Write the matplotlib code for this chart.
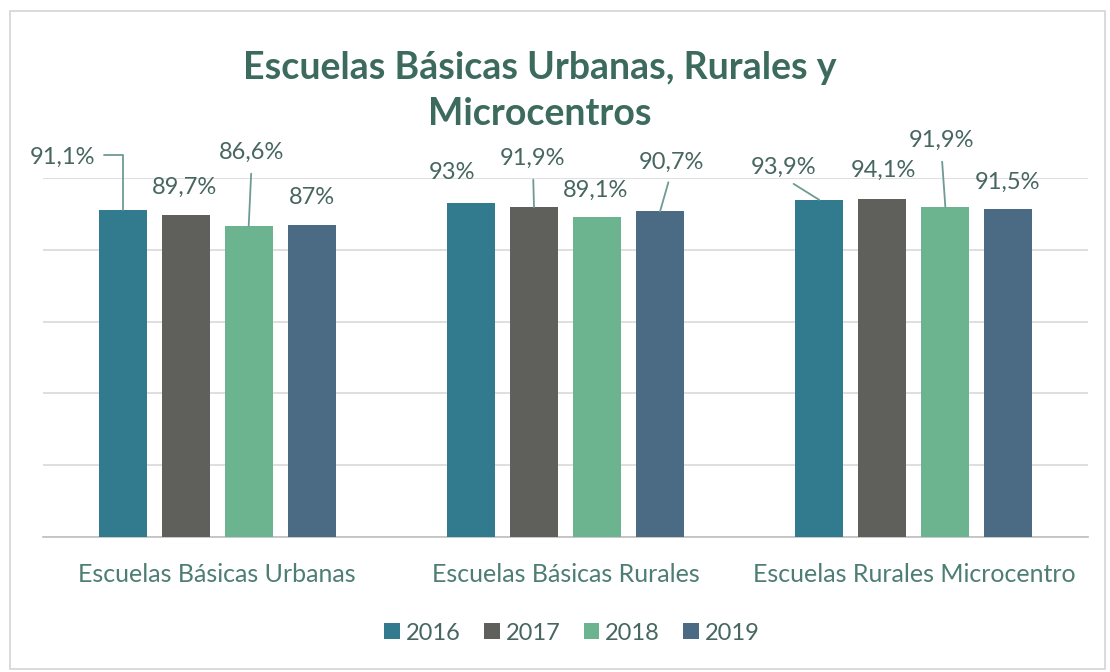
import matplotlib
matplotlib.use("Agg")
import matplotlib.pyplot as plt
from matplotlib.patches import Rectangle
import numpy as np

# ---- data ----
categories = ["Escuelas Básicas Urbanas", "Escuelas Básicas Rurales", "Escuelas Rurales Microcentro"]
years = ["2016", "2017", "2018", "2019"]
v2016 = [91.1, 93.0, 93.9]
v2017 = [89.7, 91.9, 94.1]
v2018 = [86.6, 89.1, 91.9]
v2019 = [87.0, 90.7, 91.5]
label_2016 = ["91,1%", "93%", "93,9%"]
label_2017 = ["89,7%", "91,9%", "94,1%"]
label_2018 = ["86,6%", "89,1%", "91,9%"]
label_2019 = ["87%", "90,7%", "91,5%"]
title = "Escuelas Básicas Urbanas, Rurales y\nMicrocentros"

series = [v2016, v2017, v2018, v2019]
labels = [label_2016, label_2017, label_2018, label_2019]
colors = ["#327b8e", "#5f605b", "#6cb48f", "#4b6a83"]

# label placement (pixel offsets from bar top, leader type)
label_layout = [
    [(-60, 53, "elbow"), (-19, 31, None), (-36, 33, "diag")],
    [(-1, 28, None), (-1, 49, "vert"), (1, 29, None)],
    [(3, 74, "vert"), (-1, 27, None), (-4, 67, "vert")],
    [(0, 27, None), (11, 49, "diag"), (-1, 26, None)],
]

plt.rcParams['font.family'] = ['Lato', 'DejaVu Sans']

W, H = 1110, 672
fig = plt.figure(figsize=(W / 100, H / 100), dpi=100)
fig.patch.set_facecolor("white")

# outer border
fig.patches.append(Rectangle((10 / W, 3 / H), 1095 / W, 658 / H, transform=fig.transFigure,
                             fill=False, edgecolor="#d4d4d4", lw=1.2))

ax = fig.add_axes([43 / W, 135 / H, 1045 / W, 359 / H])
x = np.arange(len(categories))
pitch = 0.181
width = 0.138

text_color = "#46665f"
leader_color = "#6f9a93"
fs_lab = 17

for i, (vals, labs, col) in enumerate(zip(series, labels, colors)):
    xs = x + (i - 1.5) * pitch
    ax.bar(xs, vals, width=width, color=col, label=years[i], zorder=3)
    for j in range(len(categories)):
        dx, dy, kind = label_layout[i][j]
        if kind is None:
            ax.annotate(labs[j], xy=(xs[j], vals[j]), xytext=(dx, dy),
                        textcoords="offset pixels", ha="center", va="center",
                        fontsize=fs_lab, color=text_color, zorder=5)
        else:
            if kind == "elbow":
                ap = dict(arrowstyle="-", color=leader_color, lw=1.3,
                          connectionstyle="angle,angleA=0,angleB=90,rad=0",
                          relpos=(1.0, 0.6), shrinkA=4, shrinkB=0)
            elif kind == "vert":
                ap = dict(arrowstyle="-", color=leader_color, lw=1.3,
                          relpos=(0.5, 0.0), shrinkA=6, shrinkB=0)
            else:
                ap = dict(arrowstyle="-", color=leader_color, lw=1.3,
                          relpos=(0.5, 0.0), shrinkA=5, shrinkB=0)
            ax.annotate(labs[j], xy=(xs[j], vals[j]), xytext=(dx, dy),
                        textcoords="offset pixels", ha="center", va="center",
                        fontsize=fs_lab, color=text_color, arrowprops=ap, zorder=5)

ax.set_xlim(-0.5, len(categories) - 0.5)
ax.set_ylim(0, 100)
ax.set_yticks([0, 20, 40, 60, 80, 100])
ax.yaxis.grid(True, color="#d9d9d9", lw=1.2, zorder=0)
ax.set_yticklabels([])
ax.tick_params(axis="y", length=0)
ax.set_xticks(x)
ax.set_xticklabels(categories, fontsize=18, color="#4d7d73")
ax.tick_params(axis="x", length=0, pad=19)
for s in ["top", "right", "left"]:
    ax.spines[s].set_visible(False)
ax.spines["bottom"].set_color("#bfbfbf")
ax.spines["bottom"].set_linewidth(1.2)
ax.set_axisbelow(True)

fig.text(540 / W, 1 - 91 / H, title, ha="center", va="center", fontsize=27,
         fontweight="bold", color="#3c6b5d", linespacing=1.4)

leg = fig.legend(loc="center", bbox_to_anchor=(572 / W, 1 - 633 / H), ncol=4,
                 frameon=False, fontsize=17, handlelength=0.65, handleheight=0.65,
                 handletextpad=0.25, columnspacing=1.0, labelcolor="#46665f")

fig.savefig("out.png", dpi=100, facecolor="white")
